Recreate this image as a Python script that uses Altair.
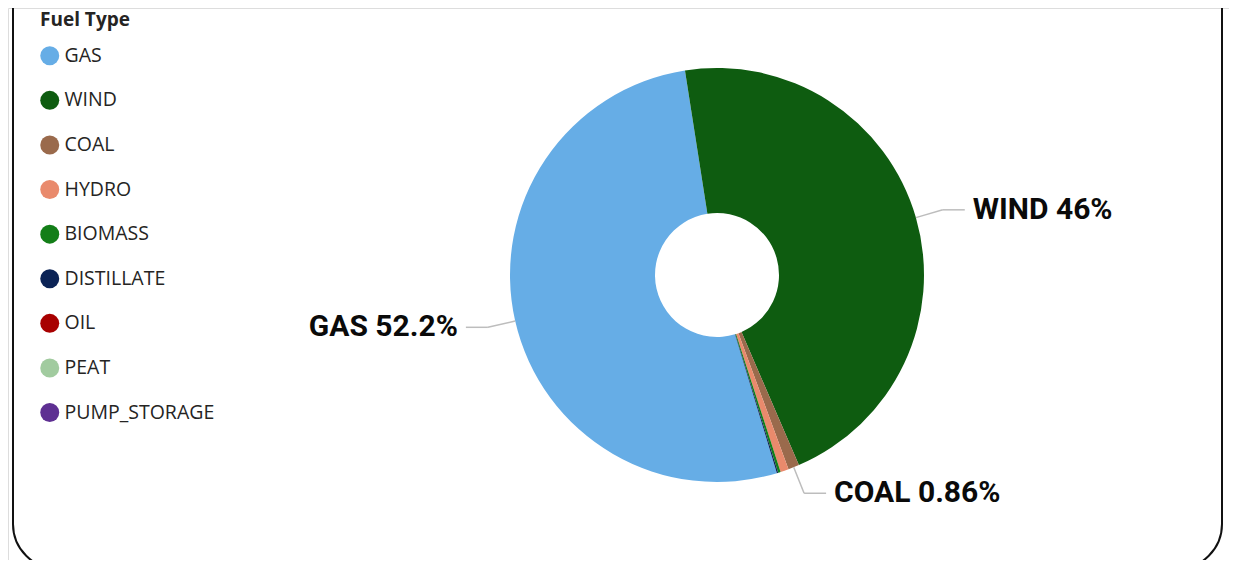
import math
import altair as alt
import pandas as pd

fuels = ["GAS", "WIND", "COAL", "HYDRO", "BIOMASS", "DISTILLATE", "OIL", "PEAT", "PUMP_STORAGE"]
shares = [52.2, 46.0, 0.86, 0.64, 0.2, 0.1, 0.0, 0.0, 0.0]
# clockwise drawing order starting at the top (WIND first, GAS last)
draw_order = [9, 1, 2, 3, 4, 5, 6, 7, 8]
colors = ["#66ADE6", "#0E5C10", "#9A6A4C", "#E98A6C", "#137E18", "#0B2356", "#A80000", "#A1CB9F", "#5E2F92"]

df = pd.DataFrame({"fuel": fuels, "value": shares, "ord": draw_order})

W, H = 1221, 552
CX, CY = 709, 267
R_OUT, R_IN = 207, 62
R_ELBOW = 235
START = math.radians(-8.9)
TWO_PI = 2 * math.pi

color_scale = alt.Scale(domain=fuels, range=colors)

base = alt.Chart(df)

arcs = base.mark_arc(outerRadius=R_OUT, innerRadius=R_IN, stroke=None).encode(
    theta=alt.Theta("value:Q", stack=True, scale=alt.Scale(range=[START, START + TWO_PI])),
    order=alt.Order("ord:Q", sort="ascending"),
    color=alt.Color(
        "fuel:N",
        scale=color_scale,
        sort=fuels,
        legend=alt.Legend(
            title="Fuel Type",
            orient="none",
            legendX=32,
            legendY=3,
            symbolType="circle",
            symbolSize=360,
            symbolStrokeWidth=0,
            labelFontSize=19.5,
            labelFont="Open Sans",
            labelColor="#252423",
            labelOffset=5,
            titleFont="Open Sans",
            titleFontSize=19,
            titleFontWeight="bold",
            titleColor="#252423",
            titlePadding=16,
            rowPadding=23.6,
            padding=0,
        ),
    ),
    x=alt.value(CX),
    y=alt.value(CY),
)

lab = (
    base.transform_window(cum="sum(value)", sort=[alt.SortField("ord", order="ascending")], frame=[None, 0])
    .transform_joinaggregate(total="sum(value)")
    .transform_calculate(
        mid=f"(datum.cum - datum.value/2)/datum.total*{TWO_PI} + {START}",
        pct="datum.value/datum.total",
    )
    .transform_filter("datum.pct >= 0.008")
    .transform_calculate(
        s="sin(datum.mid) >= 0 ? 1 : -1",
        x0=f"{CX} + {R_OUT}*sin(datum.mid)",
        y0=f"{CY} - {R_OUT}*cos(datum.mid)",
        x1=f"{CX} + {R_ELBOW}*sin(datum.mid)",
        y1=f"{CY} - {R_ELBOW}*cos(datum.mid)",
    )
    .transform_calculate(
        x2="datum.x1 + datum.s*22",
        xt="datum.x1 + datum.s*30",
        label="datum.fuel + ' ' + format(datum.pct, '.3~p')",
    )
)

lead1 = lab.mark_rule(color="#BDBDBD", strokeWidth=1.5).encode(
    x=alt.X("x0:Q", scale=None), y=alt.Y("y0:Q", scale=None),
    x2="x1:Q", y2="y1:Q",
)
lead2 = lab.mark_rule(color="#BDBDBD", strokeWidth=1.5).encode(
    x=alt.X("x1:Q", scale=None), y=alt.Y("y1:Q", scale=None),
    x2="x2:Q", y2="y1:Q",
)
text_right = lab.transform_filter("datum.s > 0").mark_text(
    font="Roboto", fontSize=30, fontWeight="bold", align="left", baseline="middle", color="#0A0A0A"
).encode(x=alt.X("xt:Q", scale=None), y=alt.Y("y1:Q", scale=None), text="label:N")
text_left = lab.transform_filter("datum.s < 0").mark_text(
    font="Roboto", fontSize=30, fontWeight="bold", align="right", baseline="middle", color="#0A0A0A"
).encode(x=alt.X("xt:Q", scale=None), y=alt.Y("y1:Q", scale=None), text="label:N")

# rounded container border: sides and bottom corners (top edge lies above the visible page)
frame = alt.Chart(pd.DataFrame({"a": [0]})).mark_rect(
    filled=False, stroke="#111111", strokeWidth=2, cornerRadius=45
).encode(x=alt.value(5), x2=alt.value(1214), y=alt.value(-80), y2=alt.value(561))

chart = (
    alt.layer(frame, arcs, lead1, lead2, text_left, text_right)
    .properties(width=W, height=H, autosize=alt.AutoSizeParams(type="none"), padding=0)
    .configure_view(strokeWidth=0, stroke="transparent", fill="white")
    .configure(background="white")
)

chart.save("out.html", embed_options={"renderer": "svg", "actions": False})
